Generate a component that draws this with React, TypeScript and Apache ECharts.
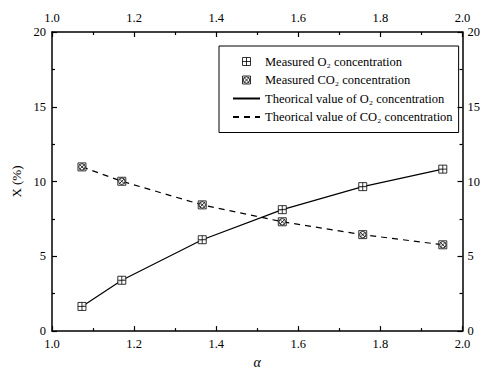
import React, { useEffect, useRef } from "react";
import * as echarts from "echarts";

const alpha = [1.073, 1.17, 1.366, 1.561, 1.757, 1.952];
const measuredO2 = [1.65, 3.4, 6.11, 8.12, 9.66, 10.83];
const measuredCO2 = [10.98, 10.02, 8.44, 7.31, 6.45, 5.77];
const theoreticalO2 = [1.65, 3.4, 6.11, 8.12, 9.66, 10.83];
const theoreticalCO2 = [10.98, 10.02, 8.44, 7.31, 6.45, 5.77];

const xTicks = { min: 1.0, max: 2.0, interval: 0.2 };
const yTicks = { min: 0, max: 20, interval: 5 };

const names = [
  "Measured O\u2082 concentration",
  "Measured CO\u2082 concentration",
  "Theorical value of O\u2082 concentration",
  "Theorical value of CO\u2082 concentration",
];

const FONT = "'Liberation Serif', 'Times New Roman', serif";
const O2_SYMBOL = "path://M0 0 L10 0 L10 10 L0 10 Z M5 0 L5 10 M0 5 L10 5";
const CO2_SYMBOL =
  "path://M0 0 L10 0 L10 10 L0 10 Z M5 1 A4 4 0 1 1 5 9 A4 4 0 1 1 5 1 Z M2 2 L8 8 M8 2 L2 8";

const pairs = (xs: number[], ys: number[]) => xs.map((x, i) => [x, ys[i]]);

export default function App() {
  const ref = useRef<HTMLDivElement>(null);
  useEffect(() => {
    if (!ref.current) return;
    const chart = echarts.init(ref.current, null, { renderer: "svg" });
    const axisCommon = {
      axisLine: { show: true, onZero: false, lineStyle: { color: "#000", width: 1.5 } },
      axisTick: { show: true, inside: true, length: 5, lineStyle: { color: "#000", width: 1.2 } },
      minorTick: { show: true, splitNumber: 2, length: 3, lineStyle: { color: "#000", width: 1.2 } },
      splitLine: { show: false },
      axisLabel: { color: "#000", fontFamily: FONT, fontSize: 12.5 },
    };
    const markerStyle = { color: "rgba(0,0,0,0)", borderColor: "#000", borderWidth: 1 };
    const hiddenSymbol = { color: "rgba(0,0,0,0)", borderColor: "rgba(0,0,0,0)", borderWidth: 0, opacity: 0 };
    chart.setOption({
      animation: false,
      backgroundColor: "#fff",
      textStyle: { fontFamily: FONT },
      grid: { left: 52, right: 13, top: 32, bottom: 30 },
      legend: {
        orient: "vertical",
        left: 219,
        top: 46,
        width: 233,
        borderColor: "#000",
        borderWidth: 1,
        padding: [9, 6, 9, 13],
        itemGap: 5.5,
        itemWidth: 27,
        itemHeight: 8,
        textStyle: { color: "#000", fontFamily: FONT, fontSize: 12.5, lineHeight: 13 },
        data: [
          { name: names[0], itemStyle: markerStyle },
          { name: names[1], itemStyle: markerStyle },
          { name: names[2], itemStyle: hiddenSymbol },
          { name: names[3], itemStyle: hiddenSymbol },
        ],
      },
      xAxis: [
        {
          type: "value",
          position: "bottom",
          ...xTicks,
          ...axisCommon,
          axisLabel: { ...axisCommon.axisLabel, margin: 6, formatter: (v: number) => v.toFixed(1) },
          name: "α",
          nameLocation: "middle",
          nameGap: 22,
          nameTextStyle: { color: "#000", fontFamily: FONT, fontSize: 14, fontStyle: "italic" },
        },
        {
          type: "value",
          position: "top",
          ...xTicks,
          ...axisCommon,
          axisLabel: { ...axisCommon.axisLabel, margin: 8, formatter: (v: number) => v.toFixed(1) },
        },
      ],
      yAxis: [
        {
          type: "value",
          position: "left",
          ...yTicks,
          ...axisCommon,
          axisLabel: { ...axisCommon.axisLabel, margin: 6 },
          name: "X (%)",
          nameLocation: "middle",
          nameGap: 25,
          nameTextStyle: { color: "#000", fontFamily: FONT, fontSize: 13 },
        },
        {
          type: "value",
          position: "right",
          ...yTicks,
          ...axisCommon,
          axisLabel: { ...axisCommon.axisLabel, margin: 5 },
        },
      ],
      series: [
        {
          name: names[2],
          type: "line",
          data: pairs(alpha, theoreticalO2),
          showSymbol: false,
          symbol: "none",
          lineStyle: { color: "#000", width: 1.2, type: "solid" },
          itemStyle: { color: "#000" },
          z: 2,
        },
        {
          name: names[3],
          type: "line",
          data: pairs(alpha, theoreticalCO2),
          showSymbol: false,
          symbol: "none",
          lineStyle: { color: "#000", width: 1.2, type: [6, 5] },
          itemStyle: { color: "#000" },
          z: 2,
        },
        {
          name: names[0],
          type: "scatter",
          data: pairs(alpha, measuredO2),
          symbol: O2_SYMBOL,
          symbolSize: 8,
          symbolKeepAspect: true,
          itemStyle: { color: "#fff", borderColor: "#000", borderWidth: 1 },
          z: 3,
        },
        {
          name: names[1],
          type: "scatter",
          data: pairs(alpha, measuredCO2),
          symbol: CO2_SYMBOL,
          symbolSize: 8,
          symbolKeepAspect: true,
          itemStyle: { color: "#fff", borderColor: "#000", borderWidth: 1 },
          z: 3,
        },
      ],
    });
    return () => chart.dispose();
  }, []);
  return (
    <div
      ref={ref}
      style={{ position: "fixed", left: 0, top: 0, width: 483, height: 374, background: "#fff" }}
    />
  );
}
